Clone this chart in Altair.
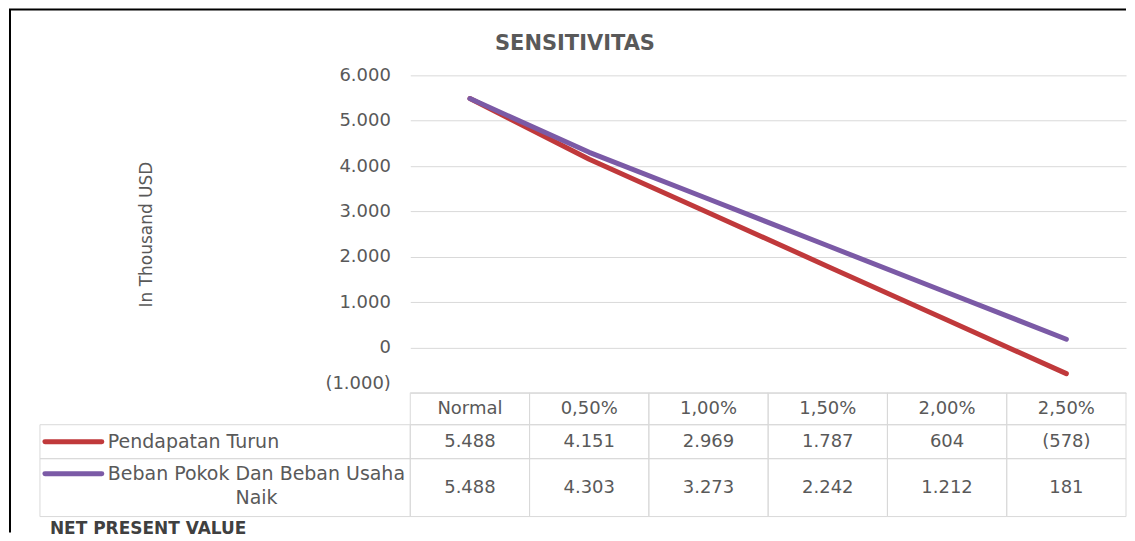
import altair as alt
import pandas as pd

# ---- data -------------------------------------------------------------
categories = ["Normal", "0,50%", "1,00%", "1,50%", "2,00%", "2,50%"]
series_names = ["Pendapatan Turun", "Beban Pokok Dan Beban Usaha Naik"]
pendapatan_turun = [5488, 4151, 2969, 1787, 604, -578]
beban_naik = [5488, 4303, 3273, 2242, 1212, 181]
series_colors = ["#C0393B", "#7B5AA6"]
y_ticks = [-1000, 0, 1000, 2000, 3000, 4000, 5000, 6000]
title_text = "SENSITIVITAS"
y_title = "In Thousand USD"
footer_text = "NET PRESENT VALUE"
row2_label_lines = ["Beban Pokok Dan Beban Usaha", "Naik"]


def fmt(v):
    s = f"{abs(v):,}".replace(",", ".")
    return f"({s})" if v < 0 else s


rows = []
for name, vals in zip(series_names, [pendapatan_turun, beban_naik]):
    for c, v in zip(categories, vals):
        rows.append({"series": name, "category": c, "value": v, "label": fmt(v)})
df = pd.DataFrame(rows)
cat_df = pd.DataFrame({"category": categories})
one = pd.DataFrame({"k": [0]})

FONT = "DejaVu Sans"
TXT = "#595959"
GRID = "#d9d9d9"
W, H = 717, 318

x_scale = alt.Scale(type="band", domain=categories, paddingInner=0, paddingOuter=0)
color_scale = alt.Scale(domain=series_names, range=series_colors)


def xcat(**kw):
    return alt.X("category:N", scale=x_scale, axis=None, **kw)


label_expr = ("datum.value < 0 ? '(' + replace(format(-datum.value, ','), ',', '.') + ')' "
              ": replace(format(datum.value, ','), ',', '.')")

# ---- frame -------------------------------------------------------------
border_left = alt.Chart(one).mark_rule(stroke="black", strokeWidth=2).encode(
    x=alt.value(-401), y=alt.value(-66), y2=alt.value(458))
border_top = alt.Chart(one).mark_rule(stroke="black", strokeWidth=2).encode(
    x=alt.value(-402), x2=alt.value(W), y=alt.value(-66))

title = alt.Chart(one).mark_text(
    text=title_text, font=FONT, fontSize=21, fontWeight="bold", color=TXT,
    align="center", baseline="middle").encode(x=alt.value(165), y=alt.value(-31))

# ---- lines -------------------------------------------------------------
lines = alt.Chart(df).mark_line(strokeWidth=5, strokeCap="round", strokeJoin="round").encode(
    x=xcat(bandPosition=0.5),
    y=alt.Y("value:Q", scale=alt.Scale(domain=[-1000, 6000], nice=False, zero=False),
            axis=alt.Axis(values=y_ticks, labelExpr=label_expr, grid=True, gridColor=GRID,
                          gridWidth=1, domain=False, ticks=False, labelPadding=20,
                          labelFont=FONT, labelFontSize=18, labelColor=TXT,
                          labelBaseline={"condition": {"test": "datum.value < 0", "value": "bottom"},
                                         "value": "middle"},
                          title=y_title, titleFont=FONT, titleFontSize=17,
                          titleFontWeight="normal", titleColor=TXT, titleAngle=270,
                          titleX=-264, titleY=159, titleAlign="center",
                          titleBaseline="middle")),
    color=alt.Color("series:N", scale=color_scale, legend=None),
)

# ---- data table --------------------------------------------------------
def cells(y0, y1):
    return alt.Chart(cat_df).mark_rect(fill="white", fillOpacity=0, stroke=GRID, strokeWidth=1).encode(
        x=xcat(), y=alt.value(y0), y2=alt.value(y1))


def label_cell(y0, y1):
    return alt.Chart(one).mark_rect(fill="white", fillOpacity=0, stroke=GRID, strokeWidth=1).encode(
        x=alt.value(-371), x2=alt.value(0), y=alt.value(y0), y2=alt.value(y1))


header_text = alt.Chart(cat_df).mark_text(font=FONT, fontSize=18, color=TXT, baseline="middle").encode(
    x=xcat(bandPosition=0.5), y=alt.value(334), text="category:N")

row_y = [367, 413]
row_texts = []
swatches = []
for i, name in enumerate(series_names):
    row_texts.append(
        alt.Chart(df[df["series"] == name]).mark_text(font=FONT, fontSize=18, color=TXT, baseline="middle").encode(
            x=xcat(bandPosition=0.5), y=alt.value(row_y[i]), text="label:N"))

sw_y = [367, 399]
for i, name in enumerate(series_names):
    swatches.append(
        alt.Chart(pd.DataFrame({"series": [name]})).mark_rule(strokeWidth=5, strokeCap="round").encode(
            x=alt.value(-366), x2=alt.value(-309), y=alt.value(sw_y[i]),
            color=alt.Color("series:N", scale=color_scale, legend=None)))

label1 = alt.Chart(one).mark_text(text=series_names[0], font=FONT, fontSize=19, color=TXT,
                                  align="left", baseline="middle").encode(
    x=alt.value(-303), y=alt.value(367))
label2a = alt.Chart(one).mark_text(text=row2_label_lines[0], font=FONT, fontSize=19, color=TXT,
                                   align="left", baseline="middle").encode(
    x=alt.value(-303), y=alt.value(399))
label2b = alt.Chart(one).mark_text(text=row2_label_lines[1], font=FONT, fontSize=19, color=TXT,
                                   align="center", baseline="middle").encode(
    x=alt.value(-154), y=alt.value(423))

footer = alt.Chart(one).mark_text(text=footer_text, font=FONT, fontSize=17, fontWeight="bold",
                                  color="#404040", align="left", baseline="middle").encode(
    x=alt.value(-361), y=alt.value(454))

chart = alt.layer(
    border_left, border_top, title,
    cells(318, 350), cells(350, 384), cells(384, 442),
    label_cell(350, 384), label_cell(384, 442),
    lines,
    header_text, *row_texts, *swatches, label1, label2a, label2b, footer,
).properties(width=W, height=H, padding=0, background="white").configure_view(stroke=None)

chart.save("out.html", embed_options={"renderer": "svg", "actions": False})
